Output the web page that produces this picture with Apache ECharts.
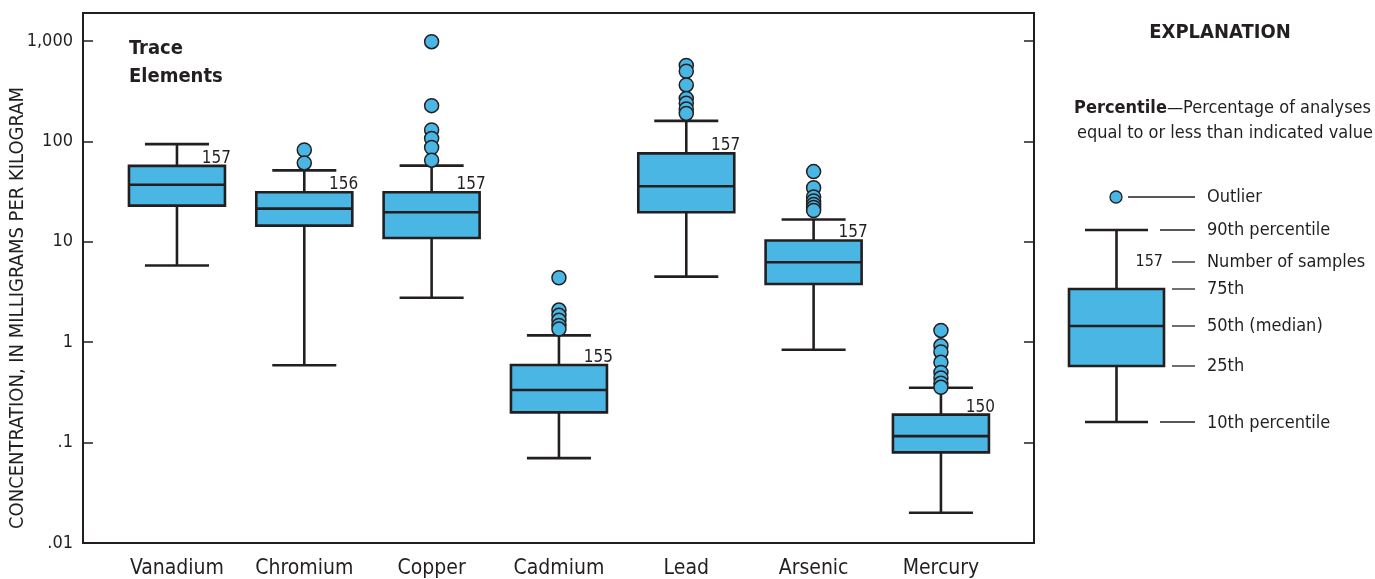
<!DOCTYPE html>
<html>
<head>
<meta charset="utf-8">
<script src="https://cdn.jsdelivr.net/npm/echarts@6/dist/echarts.min.js"></script>
<style>
  html, body { margin: 0; padding: 0; background: #ffffff; }
  #chart { width: 1375px; height: 579px; }
</style>
</head>
<body>
<div id="chart"></div>
<script>
// Trace-element concentrations, mg/kg (percentile summaries per element)
const categories = ['Vanadium', 'Chromium', 'Copper', 'Cadmium', 'Lead', 'Arsenic', 'Mercury'];
const p10    = [5.8, 0.59, 2.77, 0.070, 4.5, 0.84, 0.020];
const q1     = [22.9, 14.5, 10.9, 0.200, 19.7, 3.8, 0.080];
const median = [37, 21.4, 19.7, 0.334, 35.7, 6.25, 0.116];
const q3     = [57, 31.1, 31.1, 0.593, 76, 10.3, 0.190];
const p90    = [94, 51.5, 57.3, 1.17, 160, 16.7, 0.352];
const sampleCounts = [157, 156, 157, 155, 157, 157, 150];
const outliers = [
  [],
  [82, 61],
  [984, 227, 130, 107, 87, 65],
  [4.38, 2.09, 1.85, 1.65, 1.47, 1.35],
  [570, 500, 365, 268, 240, 210, 190],
  [50, 34.5, 28, 25.5, 23.5, 22, 20.5],
  [1.31, 0.92, 0.80, 0.63, 0.50, 0.44, 0.39, 0.355]
];
const yTickLabels = ['.01', '.1', '1', '10', '100', '1,000'];
const yTop = 1900;   // upper edge of the frame, mg/kg

const FONT = '"Liberation Sans Narrow", "DejaVu Sans Condensed", "Roboto", sans-serif';
const INK = '#231f20';
const FILL = '#49b6e3';

// values are plotted on log10 scale
const lg = v => Math.log10(v);
const Y_MIN = -2;
const Y_MAX = lg(yTop);

const boxData = categories.map((c, i) =>
  [i, lg(p10[i]), lg(q1[i]), lg(median[i]), lg(q3[i]), lg(p90[i]), sampleCounts[i]]);
const outlierData = [];
outliers.forEach((arr, i) => arr.forEach(v => outlierData.push([i, lg(v)])));

function renderBox(params, api) {
  const idx = api.value(0);
  const band = api.size([1, 0])[0];
  const bw = band * 0.754;      // box width
  const cw = band * 0.503;      // whisker cap width
  const cx = api.coord([idx, 0])[0];
  const y10 = api.coord([idx, api.value(1)])[1];
  const y25 = api.coord([idx, api.value(2)])[1];
  const y50 = api.coord([idx, api.value(3)])[1];
  const y75 = api.coord([idx, api.value(4)])[1];
  const y90 = api.coord([idx, api.value(5)])[1];
  const ls = { stroke: INK, lineWidth: 2.6 };
  const line = (x1, y1, x2, y2) => ({ type: 'line', shape: { x1, y1, x2, y2 }, style: ls });
  return {
    type: 'group',
    children: [
      line(cx, y25, cx, y10),
      line(cx - cw / 2, y10, cx + cw / 2, y10),
      line(cx, y75, cx, y90),
      line(cx - cw / 2, y90, cx + cw / 2, y90),
      { type: 'rect', shape: { x: cx - bw / 2, y: y75, width: bw, height: y25 - y75 },
        style: { fill: FILL, stroke: INK, lineWidth: 2.6 } },
      line(cx - bw / 2, y50, cx + bw / 2, y50),
      { type: 'text', x: cx + bw / 2 + 6, y: y75 + 1,
        style: { text: String(api.value(6)), align: 'right', verticalAlign: 'bottom',
                 fontFamily: FONT, fontSize: 17, fill: INK } }
    ]
  };
}

// Explanation panel on the right
const legendText = (text, y) => ({
  type: 'text', x: 1207, y,
  style: { text, fontFamily: FONT, fontSize: 18, fill: INK, verticalAlign: 'middle', align: 'left' }
});
const hl = (x1, x2, y, w) => ({ type: 'line', shape: { x1, y1: y, x2, y2: y },
  style: { stroke: INK, lineWidth: w || 1.3 } });

const graphic = [
  { type: 'text', x: 18, y: 308, rotation: Math.PI / 2,
    style: { text: 'CONCENTRATION, IN MILLIGRAMS PER KILOGRAM', fontFamily: FONT, fontSize: 20,
             fill: INK, align: 'center', verticalAlign: 'middle' } },
  { type: 'text', x: 129, y: 63,
    style: { text: 'Trace\nElements', fontFamily: FONT, fontSize: 20, fontWeight: 'bold',
             fill: INK, lineHeight: 28, verticalAlign: 'middle' } },
  { type: 'text', x: 1220, y: 33,
    style: { text: 'EXPLANATION', fontFamily: FONT, fontSize: 20, fontWeight: 'bold',
             fill: INK, align: 'center', verticalAlign: 'middle' } },
  { type: 'text', x: 1371, y: 108,
    style: { text: '{b|Percentile}—Percentage of analyses', fontFamily: FONT, fontSize: 18,
             fill: INK, align: 'right', verticalAlign: 'middle',
             rich: { b: { fontFamily: FONT, fontSize: 18, fontWeight: 'bold', fill: INK } } } },
  { type: 'text', x: 1373, y: 133,
    style: { text: 'equal to or less than indicated value', fontFamily: FONT, fontSize: 18,
             fill: INK, align: 'right', verticalAlign: 'middle' } },
  // schematic box
  { type: 'line', shape: { x1: 1116.5, y1: 230, x2: 1116.5, y2: 289 }, style: { stroke: INK, lineWidth: 2.6 } },
  { type: 'line', shape: { x1: 1116.5, y1: 366, x2: 1116.5, y2: 422 }, style: { stroke: INK, lineWidth: 2.6 } },
  hl(1085, 1148, 230, 2.6),
  hl(1085, 1148, 422, 2.6),
  { type: 'rect', shape: { x: 1069, y: 289, width: 95, height: 77 },
    style: { fill: FILL, stroke: INK, lineWidth: 2.6 } },
  hl(1069, 1164, 326, 2.6),
  { type: 'circle', shape: { cx: 1116, cy: 197, r: 6 }, style: { fill: FILL, stroke: INK, lineWidth: 1.3 } },
  { type: 'text', x: 1163, y: 262,
    style: { text: '157', fontFamily: FONT, fontSize: 16, fill: INK, align: 'right', verticalAlign: 'middle' } },
  hl(1128, 1195, 197), hl(1160, 1195, 230), hl(1172, 1195, 262),
  hl(1172, 1195, 289), hl(1172, 1195, 326), hl(1172, 1195, 366), hl(1160, 1195, 422),
  legendText('Outlier', 197),
  legendText('90th percentile', 230),
  legendText('Number of samples', 262),
  legendText('75th', 289),
  legendText('50th (median)', 326),
  legendText('25th', 366),
  legendText('10th percentile', 423)
];

const yRange = { type: 'value', min: Y_MIN, max: Y_MAX, interval: 1 };

const option = {
  animation: false,
  backgroundColor: '#ffffff',
  grid: [
    { left: 83, top: 13, width: 951, height: 530, show: true,
      borderColor: INK, borderWidth: 2, backgroundColor: 'transparent' },
    { left: 113.3, top: 13, width: 891.3, height: 530 }
  ],
  xAxis: [
    { gridIndex: 0, type: 'value', show: false, min: 0, max: 1 },
    { gridIndex: 1, type: 'category', data: categories,
      axisLine: { show: false }, axisTick: { show: false }, splitLine: { show: false },
      axisLabel: { interval: 0, fontFamily: FONT, fontSize: 21, color: INK, margin: 15 } }
  ],
  yAxis: [
    Object.assign({ gridIndex: 0, position: 'left',
      axisLine: { show: false }, splitLine: { show: false },
      axisTick: { show: true, inside: true, length: 10, lineStyle: { color: INK, width: 1.5 } },
      axisLabel: { fontFamily: FONT, fontSize: 18, color: INK, margin: 10, showMaxLabel: false,
        formatter: v => Number.isInteger(Math.round(v * 1e6) / 1e6) ? (yTickLabels[Math.round(v) - Y_MIN] || '') : '' } }, yRange),
    Object.assign({ gridIndex: 0, position: 'right',
      axisLine: { show: false }, splitLine: { show: false },
      axisTick: { show: true, inside: true, length: 10, lineStyle: { color: INK, width: 1.5 } },
      axisLabel: { show: false } }, yRange),
    Object.assign({ gridIndex: 1, show: false }, yRange)
  ],
  series: [
    { type: 'custom', xAxisIndex: 1, yAxisIndex: 2, data: boxData,
      encode: { x: 0, y: [1, 2, 3, 4, 5] }, renderItem: renderBox, z: 2 },
    { type: 'scatter', xAxisIndex: 1, yAxisIndex: 2, data: outlierData,
      symbol: 'circle', symbolSize: 14, z: 3,
      itemStyle: { color: FILL, borderColor: INK, borderWidth: 1.5, opacity: 1 } }
  ],
  graphic
};

const chart = echarts.init(document.getElementById('chart'), null, { renderer: 'canvas' });
chart.setOption(option);
</script>
</body>
</html>
